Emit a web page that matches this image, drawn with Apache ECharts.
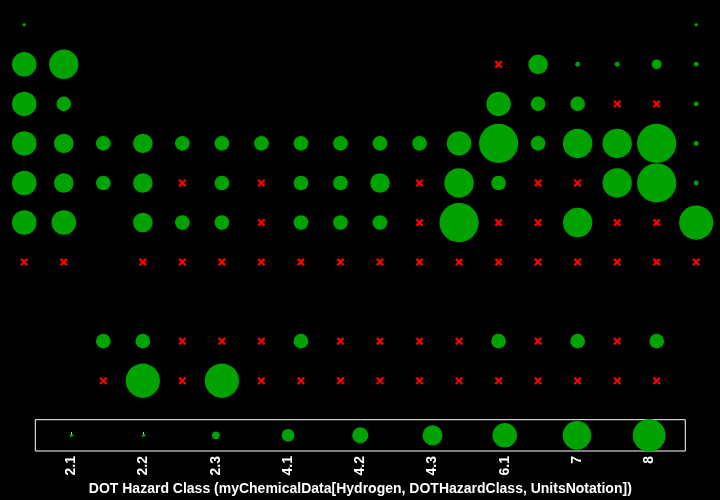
<!DOCTYPE html>
<html>
<head>
<meta charset="utf-8">
<style>
  html, body { margin: 0; padding: 0; background: #000; }
  #chart { width: 720px; height: 500px; }
</style>
<script src="https://cdn.jsdelivr.net/npm/echarts@6/dist/echarts.min.js"></script>
</head>
<body>
<div id="chart"></div>
<script>
// Bubble magnitudes per row (0 = red cross, null = nothing drawn)
var row0 = [0.7, null, null, null, null, null, null, null, null, null, null, null, null, null, null, null, null, 0.7];
var row1 = [5, 6, null, null, null, null, null, null, null, null, null, null, 0, 4, 1, 1, 2, 1];
var row2 = [5, 3, null, null, null, null, null, null, null, null, null, null, 5, 3, 3, 0, 0, 1];
var row3 = [5, 4, 3, 4, 3, 3, 3, 3, 3, 3, 3, 5, 8, 3, 6, 6, 8, 1];
var row4 = [5, 4, 3, 4, 0, 3, 0, 3, 3, 4, 0, 6, 3, 0, 0, 6, 8, 1];
var row5 = [5, 5, null, 4, 3, 3, 0, 3, 3, 3, 0, 8, 0, 0, 6, 0, 0, 7];
var row6 = [0, 0, null, 0, 0, 0, 0, 0, 0, 0, 0, 0, 0, 0, 0, 0, 0, 0];
var row7 = [null, null, null, null, null, null, null, null, null, null, null, null, null, null, null, null, null, null];
var row8 = [null, null, 3, 3, 0, 0, 0, 3, 0, 0, 0, 0, 3, 0, 3, 0, 3, null];
var row9 = [null, null, 0, 7, 0, 7, 0, 0, 0, 0, 0, 0, 0, 0, 0, 0, 0, null];
var rows = [row0, row1, row2, row3, row4, row5, row6, row7, row8, row9];

// Size scale strip along the bottom axis
var hazardClasses = ['2.1', '2.2', '2.3', '4.1', '4.2', '4.3', '6.1', '7', '8'];
var scaleValues = [0.7, 0.7, 1.6, 2.6, 3.3, 4.1, 5, 5.85, 6.7];
var axisTitle = 'DOT Hazard Class (myChemicalData[Hydrogen, DOTHazardClass, UnitsNotation])';

var SIZE_K = 4.9;
var GREEN = '#00a200';
var RED = '#ff0000';
var crossPath = 'path://M2,0L5,3L8,0L10,2L7,5L10,8L8,10L5,7L2,10L0,8L3,5L0,2Z';

var bubbles = [], crosses = [];
rows.forEach(function (r, ri) {
  r.forEach(function (v, ci) {
    if (v === null) return;
    if (v === 0) crosses.push([ci, ri]);
    else bubbles.push([ci, ri, v]);
  });
});

var chart = echarts.init(document.getElementById('chart'), null, { renderer: 'canvas' });
chart.setOption({
  backgroundColor: '#000',
  animation: false,
  grid: [
    { left: 4.5, right: 4, top: 5, bottom: 99.5, show: false },
    { left: 35.3, right: 34.7, top: 419.7, bottom: 49, show: true, borderColor: '#ffffff', borderWidth: 1, backgroundColor: 'transparent' }
  ],
  xAxis: [
    { gridIndex: 0, type: 'value', min: -0.5, max: 17.5, show: false },
    {
      gridIndex: 1, type: 'category', data: hazardClasses, boundaryGap: true,
      axisLine: { show: false },
      axisTick: { show: true, inside: true, length: 3, alignWithLabel: true, lineStyle: { color: '#ffffff' } },
      axisLabel: { rotate: 90, margin: 5, color: '#ffffff', fontFamily: 'Liberation Sans, Arial, sans-serif', fontWeight: 'bold', fontSize: 14 },
      name: axisTitle, nameLocation: 'middle', nameGap: 31,
      nameTextStyle: { color: '#ffffff', fontFamily: 'Liberation Sans, Arial, sans-serif', fontWeight: 'bold', fontSize: 14 }
    }
  ],
  yAxis: [
    { gridIndex: 0, type: 'value', min: -0.5, max: 9.5, inverse: true, show: false },
    { gridIndex: 1, type: 'value', min: -1, max: 1, show: false }
  ],
  series: [
    {
      type: 'scatter', xAxisIndex: 0, yAxisIndex: 0, data: bubbles,
      symbol: 'circle',
      symbolSize: function (d) { return d[2] * SIZE_K; },
      itemStyle: { color: GREEN, opacity: 1 }
    },
    {
      type: 'scatter', xAxisIndex: 0, yAxisIndex: 0, data: crosses,
      symbol: crossPath, symbolSize: 8,
      itemStyle: { color: RED, opacity: 1 }
    },
    {
      type: 'scatter', xAxisIndex: 1, yAxisIndex: 1,
      data: hazardClasses.map(function (c, i) { return [c, 0, scaleValues[i]]; }),
      symbol: 'circle',
      symbolSize: function (d) { return d[2] * SIZE_K; },
      itemStyle: { color: GREEN, opacity: 1 }
    }
  ]
});
</script>
</body>
</html>
